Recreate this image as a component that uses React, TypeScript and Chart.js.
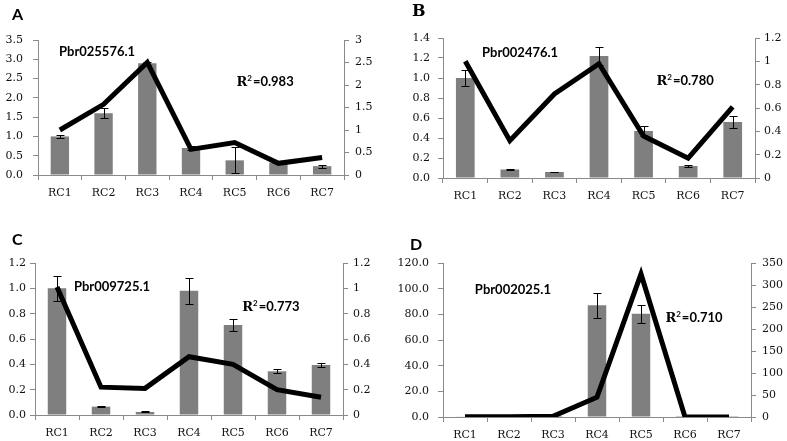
import React, { useEffect, useRef } from 'react';
import { Chart, registerables } from 'chart.js';

Chart.register(...registerables);

const categories = ['RC1', 'RC2', 'RC3', 'RC4', 'RC5', 'RC6', 'RC7'];

const barA = [1.0, 1.6, 2.9, 0.7, 0.38, 0.32, 0.23];
const errA = [0.05, 0.13, 0.04, 0.04, 0.34, 0.0, 0.04];
const lineA = [1.0, 1.57, 2.5, 0.57, 0.72, 0.26, 0.39];

const barB = [1.0, 0.085, 0.06, 1.22, 0.47, 0.12, 0.56];
const errB = [0.08, 0.003, 0.003, 0.09, 0.05, 0.01, 0.06];
const lineB = [1.0, 0.32, 0.72, 0.98, 0.36, 0.17, 0.61];

const barC = [1.0, 0.066, 0.024, 0.98, 0.71, 0.345, 0.395];
const errC = [0.1, 0.005, 0.004, 0.1, 0.05, 0.015, 0.015];
const lineC = [1.01, 0.22, 0.21, 0.46, 0.4, 0.2, 0.14];

const barD = [0.3, 0.5, 0.8, 87, 80.5, 0.1, 0.1];
const errD = [0, 0, 0, 9.5, 7, 0, 0];
const lineD = [0.3, 0.5, 1.5, 45, 325, 0.2, 0.2];

const panels = [
  {
    letter: 'A', letterFont: 'bold 16px Lato', letterX: 12, letterY: 20,
    gene: 'Pbr025576.1', r2: '0.983',
    bars: barA, errs: errA, line: lineA,
    left: { max: 3.5, step: 0.5, dec: 1 }, right: { max: 3, step: 0.5 },
    box: { x: 0, y: 0, w: 390, h: 210 },
    area: { l: 38, r: 344, t: 40, b: 175 }, lpad: 10, rpad: 6,
    geneAt: [0.193, 0.089], r2At: [0.742, 0.311],
  },
  {
    letter: 'B', letterFont: 'bold 16px "DejaVu Serif"', letterX: 22, letterY: 16,
    gene: 'Pbr002476.1', r2: '0.780',
    bars: barB, errs: errB, line: lineB,
    left: { max: 1.4, step: 0.2, dec: 1 }, right: { max: 1.2, step: 0.2 },
    box: { x: 390, y: 0, w: 397, h: 210 },
    area: { l: 53, r: 365, t: 38, b: 178 }, lpad: 8, rpad: 4,
    geneAt: [0.247, 0.107], r2At: [0.776, 0.307],
  },
  {
    letter: 'C', letterFont: 'bold 16px Lato', letterX: 12, letterY: 25,
    gene: 'Pbr009725.1', r2: '0.773',
    bars: barC, errs: errC, line: lineC,
    left: { max: 1.2, step: 0.2, dec: 1 }, right: { max: 1.2, step: 0.2 },
    box: { x: 0, y: 220, w: 390, h: 221 },
    area: { l: 35, r: 343, t: 43, b: 195 }, lpad: 4, rpad: 5,
    geneAt: [0.25, 0.158], r2At: [0.766, 0.289],
  },
  {
    letter: 'D', letterFont: 'bold 16px Lato', letterX: 20, letterY: 30,
    gene: 'Pbr002025.1', r2: '0.710',
    bars: barD, errs: errD, line: lineD,
    left: { max: 120, step: 20, dec: 1 }, right: { max: 350, step: 50 },
    box: { x: 390, y: 220, w: 397, h: 221 },
    area: { l: 53, r: 361, t: 43, b: 197 }, lpad: 9, rpad: 6,
    geneAt: [0.227, 0.175], r2At: [0.815, 0.351],
  },
];

const AXIS = '#8a8a8a';
const TICKFONT = { family: 'DejaVu Serif', size: 11 };

function Panel({ p }: { p: any }) {
  const ref = useRef<HTMLCanvasElement>(null);
  useEffect(() => {
    if (!ref.current) return;
    const errPlugin = {
      id: 'errbars',
      afterDatasetDraw(chart: any, args: any) {
        if (args.index !== 1) return;
        const ctx = chart.ctx;
        const ys = chart.scales.y;
        const meta = chart.getDatasetMeta(1);
        ctx.save();
        ctx.strokeStyle = '#000';
        ctx.lineWidth = 1;
        meta.data.forEach((el: any, i: number) => {
          const e = p.errs[i];
          if (!e) return;
          const v = p.bars[i];
          const x = Math.round(el.x) + 0.5;
          const yt = Math.round(ys.getPixelForValue(v + e)) + 0.5;
          const yb = Math.round(ys.getPixelForValue(Math.max(0, v - e))) + 0.5;
          ctx.beginPath();
          ctx.moveTo(x, yt); ctx.lineTo(x, yb);
          ctx.moveTo(x - 4, yt); ctx.lineTo(x + 4, yt);
          ctx.moveTo(x - 4, yb); ctx.lineTo(x + 4, yb);
          ctx.stroke();
        });
        ctx.restore();
      },
    };
    const textPlugin = {
      id: 'texts',
      afterDraw(chart: any) {
        const ctx = chart.ctx;
        const a = chart.chartArea;
        const W = a.right - a.left;
        const H = a.bottom - a.top;
        ctx.save();
        ctx.fillStyle = '#000';
        ctx.textBaseline = 'alphabetic';
        ctx.textAlign = 'left';
        ctx.font = p.letterFont;
        ctx.fillText(p.letter, p.letterX, p.letterY);
        // gene name
        ctx.font = 'bold 13px Lato';
        ctx.textBaseline = 'middle';
        ctx.textAlign = 'center';
        ctx.fillText(p.gene, a.left + p.geneAt[0] * W, a.top + p.geneAt[1] * H);
        // R² = value
        const fR = 'bold 13px "DejaVu Serif"';
        const fS = 'bold 8px Lato';
        const fV = 'bold 13px Lato';
        const tV = '=' + p.r2;
        ctx.font = fR; const wR = ctx.measureText('R').width;
        ctx.font = fS; const wS = ctx.measureText('2').width;
        ctx.font = fV; const wV = ctx.measureText(tV).width;
        const total = wR + wS + 1 + wV;
        let x = a.left + p.r2At[0] * W - total / 2;
        const y = a.top + p.r2At[1] * H;
        ctx.textAlign = 'left';
        ctx.textBaseline = 'alphabetic';
        const base = y + 4.5;
        ctx.font = fR; ctx.fillText('R', x, base); x += wR;
        ctx.font = fS; ctx.fillText('2', x, base - 5); x += wS + 1;
        ctx.font = fV; ctx.fillText(tV, x, base);
        ctx.restore();
      },
    };
    const fmt = (v: number) => String(+Number(v).toFixed(2));
    const chart = new Chart(ref.current, {
      type: 'bar',
      data: {
        labels: categories,
        datasets: [
          {
            type: 'line',
            data: p.line,
            yAxisID: 'y2',
            borderColor: '#000',
            borderWidth: 5,
            pointRadius: 0,
            tension: 0,
            borderJoinStyle: 'miter',
            fill: false,
          } as any,
          {
            type: 'bar',
            data: p.bars,
            yAxisID: 'y',
            backgroundColor: '#7f7f7f',
            barPercentage: 0.42,
            categoryPercentage: 1,
          },
        ],
      },
      options: {
        responsive: false,
        animation: false,
        devicePixelRatio: 1,
        layout: {
          padding: {
            left: 0,
            right: 0,
            top: p.area.t,
            bottom: p.box.h - p.area.b - 26,
          },
        },
        plugins: { legend: { display: false }, tooltip: { enabled: false } },
        scales: {
          x: {
            grid: { drawOnChartArea: false, drawTicks: true, tickLength: 5, color: AXIS, offset: true },
            border: { display: true, color: AXIS },
            ticks: { font: TICKFONT, color: '#111', padding: 7, maxRotation: 0 },
            afterFit: (s: any) => { s.height = 26; },
          },
          y: {
            position: 'left',
            min: 0,
            max: p.left.max,
            grid: { drawOnChartArea: false, drawTicks: true, tickLength: 5, color: AXIS },
            border: { display: true, color: AXIS },
            ticks: {
              stepSize: p.left.step,
              font: TICKFONT,
              color: '#111',
              padding: p.lpad,
              callback: (v: any) => Number(v).toFixed(p.left.dec),
            },
            afterFit: (s: any) => { s.width = p.area.l; },
          },
          y2: {
            position: 'right',
            min: 0,
            max: p.right.max,
            grid: { drawOnChartArea: false, drawTicks: true, tickLength: 5, color: AXIS },
            border: { display: true, color: AXIS },
            ticks: {
              stepSize: p.right.step,
              font: TICKFONT,
              color: '#111',
              padding: p.rpad,
              callback: (v: any) => fmt(v),
            },
            afterFit: (s: any) => { s.width = p.box.w - p.area.r; },
          },
        },
      },
      plugins: [errPlugin, textPlugin],
    });
    return () => chart.destroy();
  }, [p]);
  return (
    <div style={{ position: 'absolute', left: p.box.x, top: p.box.y, width: p.box.w, height: p.box.h }}>
      <canvas ref={ref} width={p.box.w} height={p.box.h} style={{ display: 'block' }} />
    </div>
  );
}

export default function App() {
  return (
    <div style={{ position: 'fixed', left: 0, top: 0, width: 787, height: 441, background: '#fff', overflow: 'hidden' }}>
      {panels.map((p) => (
        <Panel key={p.letter} p={p} />
      ))}
    </div>
  );
}
